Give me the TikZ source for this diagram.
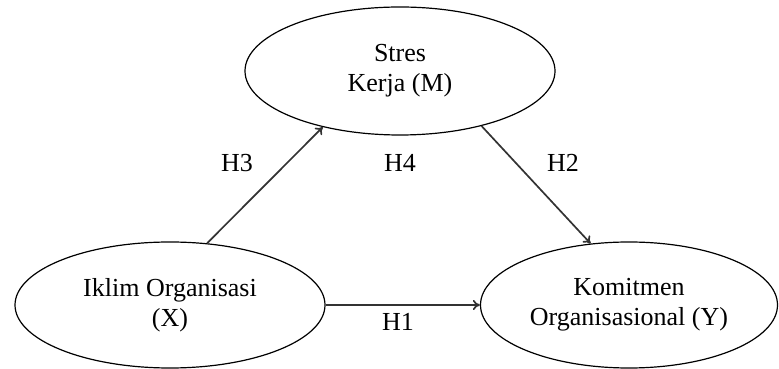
\documentclass[tikz,border=0pt]{standalone}
\usepackage{fontspec}
\setmainfont{Liberation Serif}
\usetikzlibrary{shapes.geometric,arrows.meta}

\begin{document}
\begin{tikzpicture}[x=1pt, y=1pt,
  every node/.style = {font=\fontsize{26}{30}\selectfont},
  var/.style = {draw, ellipse, line width=1.2pt, align=center, inner sep=0pt},
  path/.style = {line width=1.7pt, draw=black!80, -{To[length=7pt, width=10pt]}},
  ]
  \useasboundingbox (0,0) rectangle (779,369);
  \node[var, minimum width=310pt, minimum height=128pt] (nM) at (400,298) {Stres\\Kerja (M)};
  \node[var, minimum width=310pt, minimum height=126pt] (nX) at (170,64) {Iklim Organisasi\\(X)};
  \node[var, minimum width=297pt, minimum height=126pt] (nY) at (629,64) {Komitmen\\Organisasional (Y)};
  \draw[path] (nX.59) -- (nM.216);
  \draw[path] (nM.326) -- (nY.122);
  \draw[path] (nX.east) -- (nY.west);
  \node (lH3) at (237,206) {H3};
  \node (lH4) at (400,206) {H4};
  \node (lH2) at (563,206) {H2};
  \node (lH1) at (398,47) {H1};
\end{tikzpicture}
\end{document}
